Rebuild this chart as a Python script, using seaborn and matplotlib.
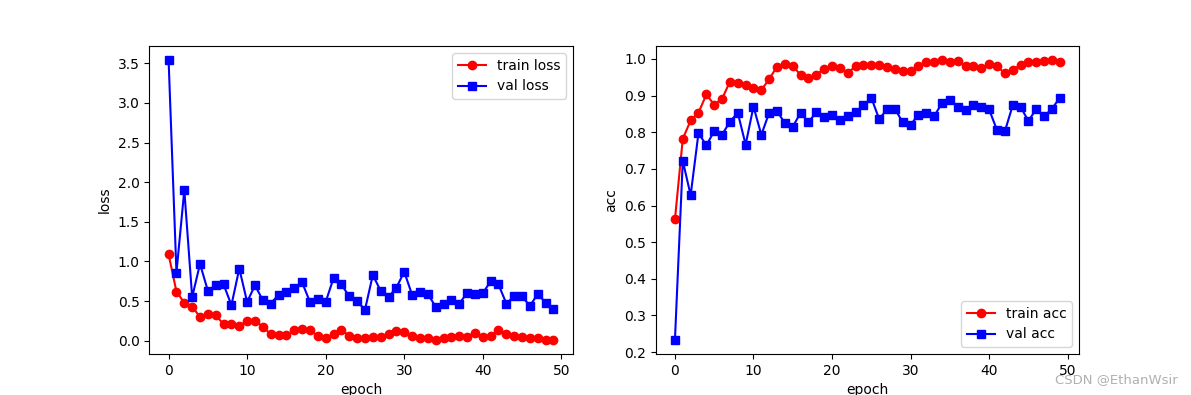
import numpy as np
import pandas as pd
import seaborn as sns
import matplotlib
matplotlib.use("Agg")
import matplotlib.pyplot as plt

epochs = list(range(50))

train_loss = [1.09, 0.62, 0.48, 0.43, 0.30, 0.34, 0.32, 0.21, 0.21, 0.19,
              0.25, 0.25, 0.18, 0.08, 0.07, 0.07, 0.13, 0.15, 0.14, 0.06,
              0.04, 0.08, 0.14, 0.06, 0.03, 0.03, 0.05, 0.05, 0.08, 0.12,
              0.11, 0.06, 0.03, 0.03, 0.01, 0.03, 0.05, 0.06, 0.05, 0.10,
              0.05, 0.06, 0.14, 0.09, 0.06, 0.05, 0.03, 0.03, 0.01, 0.01]
val_loss = [3.54, 0.86, 1.90, 0.55, 0.97, 0.63, 0.70, 0.71, 0.45, 0.91,
            0.49, 0.70, 0.51, 0.47, 0.58, 0.62, 0.67, 0.735, 0.49, 0.53,
            0.49, 0.79, 0.71, 0.56, 0.50, 0.39, 0.83, 0.63, 0.55, 0.67,
            0.87, 0.58, 0.62, 0.59, 0.43, 0.47, 0.52, 0.47, 0.60, 0.59,
            0.60, 0.75, 0.71, 0.47, 0.56, 0.56, 0.44, 0.59, 0.48, 0.40]

train_acc = [0.562, 0.782, 0.832, 0.853, 0.903, 0.875, 0.891, 0.938, 0.935, 0.930,
             0.920, 0.915, 0.945, 0.979, 0.985, 0.981, 0.956, 0.948, 0.957, 0.973,
             0.981, 0.975, 0.962, 0.980, 0.984, 0.984, 0.984, 0.977, 0.973, 0.966,
             0.966, 0.980, 0.991, 0.991, 0.997, 0.991, 0.994, 0.982, 0.982, 0.975,
             0.985, 0.980, 0.961, 0.970, 0.984, 0.991, 0.991, 0.994, 0.997, 0.991]
val_acc = [0.233, 0.722, 0.628, 0.798, 0.764, 0.803, 0.793, 0.829, 0.853, 0.766,
           0.870, 0.793, 0.853, 0.857, 0.825, 0.815, 0.853, 0.827, 0.855, 0.841,
           0.847, 0.832, 0.844, 0.856, 0.873, 0.894, 0.836, 0.862, 0.864, 0.827,
           0.820, 0.848, 0.853, 0.844, 0.879, 0.889, 0.868, 0.861, 0.873, 0.870,
           0.862, 0.806, 0.802, 0.873, 0.870, 0.830, 0.864, 0.843, 0.864, 0.894]

df = pd.DataFrame({"epoch": epochs, "train_loss": train_loss, "val_loss": val_loss,
                   "train_acc": train_acc, "val_acc": val_acc})

fig, (ax1, ax2) = plt.subplots(1, 2, figsize=(11.91, 3.95), dpi=100)
fig.subplots_adjust(left=0.1254, right=0.906, top=0.8835, bottom=0.1038, wspace=0.196)

def draw(ax, col, color, marker, label):
    sns.lineplot(data=df, x="epoch", y=col, ax=ax, color=color, marker=marker,
                 markersize=6, markeredgecolor=color, markeredgewidth=1,
                 linewidth=1.5, label=label)

draw(ax1, "train_loss", "red", "o", "train loss")
draw(ax1, "val_loss", "blue", "s", "val loss")
ax1.set_xlabel("epoch")
ax1.set_ylabel("loss")
ax1.legend(loc="upper right")

draw(ax2, "train_acc", "red", "o", "train acc")
draw(ax2, "val_acc", "blue", "s", "val acc")
ax2.set_xlabel("epoch")
ax2.set_ylabel("acc")
ax2.legend(loc="lower right")

for ax in (ax1, ax2):
    ax.set_xticks([0, 10, 20, 30, 40, 50])

fig.text(0.886, 0.038, "CSDN @EthanWsir", color="#b0b0b0", fontsize=9.5, ha="left", va="center")

fig.savefig("out.png", dpi=100)
